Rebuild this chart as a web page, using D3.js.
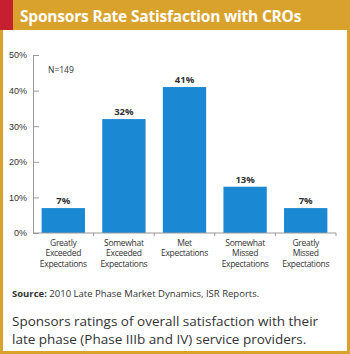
<!DOCTYPE html>
<html>
<head>
<meta charset="utf-8">
<script src="https://cdn.jsdelivr.net/npm/d3@7"></script>
<style>
  body { margin: 0; background: #fff; }
  svg { display: block; font-family: "Open Sans", "Noto Sans", sans-serif; }
</style>
</head>
<body>
<svg class="chart" width="350" height="354"></svg>
<script>
// data
var categories = [
  ["Greatly", "Exceeded", "Expectations"],
  ["Somewhat", "Exceeded", "Expectations"],
  ["Met", "Expectations"],
  ["Somewhat", "Missed", "Expectations"],
  ["Greatly", "Missed", "Expectations"]
];
var values = [7, 32, 41, 13, 7];
var yTicks = [0, 10, 20, 30, 40, 50];

var gold = "#d9a22c", red = "#c61f30", blue = "#1a88d2", ink = "#333";

var svg = d3.select(".chart"),
    width = +svg.attr("width"),
    height = +svg.attr("height");

// frame
svg.append("rect").attr("x", 0).attr("y", 0).attr("width", width).attr("height", height).attr("fill", gold);
svg.append("rect").attr("x", 3).attr("y", 30).attr("width", width - 6).attr("height", height - 33).attr("fill", "#fff");
svg.append("rect").attr("x", 0).attr("y", 0).attr("width", 13).attr("height", 30).attr("fill", red);

svg.append("text")
  .attr("x", 20).attr("y", 22)
  .attr("fill", "#fff")
  .style("font-size", "15.5px").style("font-weight", "bold")
  .style("letter-spacing", "-0.2px")
  .text("Sponsors Rate Satisfaction with CROs");

// scales
var x = d3.scaleBand()
    .domain(d3.range(values.length))
    .range([33, 336])
    .paddingInner(0.285)
    .paddingOuter(0.1425);

var y = d3.scaleLinear().domain([0, 50]).range([233, 55]);

var g = svg.append("g");

// y axis
var yAxis = d3.axisRight(y)
    .tickValues(yTicks)
    .tickSize(6)
    .tickFormat(function(d) { return d + "%"; });

var ya = g.append("g").attr("transform", "translate(33,0)").call(yAxis);
ya.select(".domain").attr("stroke", "#999");
ya.selectAll(".tick line").attr("stroke", "#999");
ya.selectAll(".tick text")
  .attr("x", -6).attr("text-anchor", "end")
  .attr("fill", ink)
  .style("font-size", "9px");

// bars
g.selectAll(".bar")
  .data(values)
  .enter().append("rect")
  .attr("class", "bar")
  .attr("x", function(d, i) { return x(i); })
  .attr("y", function(d) { return y(d); })
  .attr("width", x.bandwidth())
  .attr("height", function(d) { return y(0) - y(d); })
  .attr("fill", blue);

// value labels
g.selectAll(".val")
  .data(values)
  .enter().append("text")
  .attr("x", function(d, i) { return x(i) + x.bandwidth() / 2; })
  .attr("y", function(d) { return y(d) - 4; })
  .attr("text-anchor", "middle")
  .attr("fill", ink)
  .style("font-size", "9.5px").style("font-weight", "bold")
  .text(function(d) { return d + "%"; });

// x axis baseline and separators
var step = x.step();
g.append("line")
  .attr("x1", 33).attr("x2", 336)
  .attr("y1", y(0)).attr("y2", y(0))
  .attr("stroke", "#999");
g.selectAll(".sep")
  .data(d3.range(1, values.length + 1))
  .enter().append("line")
  .attr("x1", function(i) { return 33 + i * step; })
  .attr("x2", function(i) { return 33 + i * step; })
  .attr("y1", y(0)).attr("y2", y(0) + 3)
  .attr("stroke", "#999");

// category labels
var cl = g.selectAll(".cat")
  .data(categories)
  .enter().append("text")
  .attr("text-anchor", "middle")
  .attr("fill", ink)
  .style("font-size", "8.5px")
  .style("letter-spacing", "-0.3px");
cl.selectAll("tspan")
  .data(function(d, i) { return d.map(function(s) { return { s: s, i: i }; }); })
  .enter().append("tspan")
  .attr("x", function(d) { return x(d.i) + x.bandwidth() / 2; })
  .attr("y", function(d, j) { return 246 + j * 10.3; })
  .text(function(d) { return d.s; });

// N label
svg.append("text")
  .attr("x", 48).attr("y", 73)
  .attr("fill", ink)
  .style("font-size", "8.5px")
  .text("N=149");

// source
var src = svg.append("text")
  .attr("x", 12).attr("y", 297)
  .attr("fill", ink)
  .style("font-size", "9.5px");
src.append("tspan").style("font-weight", "bold").text("Source:");
src.append("tspan").text(" 2010 Late Phase Market Dynamics, ISR Reports.");

// caption
var cap = svg.append("text")
  .attr("fill", ink)
  .style("font-size", "13.5px");
cap.append("tspan").attr("x", 12).attr("y", 326).text("Sponsors ratings of overall satisfaction with their");
cap.append("tspan").attr("x", 12).attr("y", 344).text("late phase (Phase IIIb and IV) service providers.");
</script>
</body>
</html>
